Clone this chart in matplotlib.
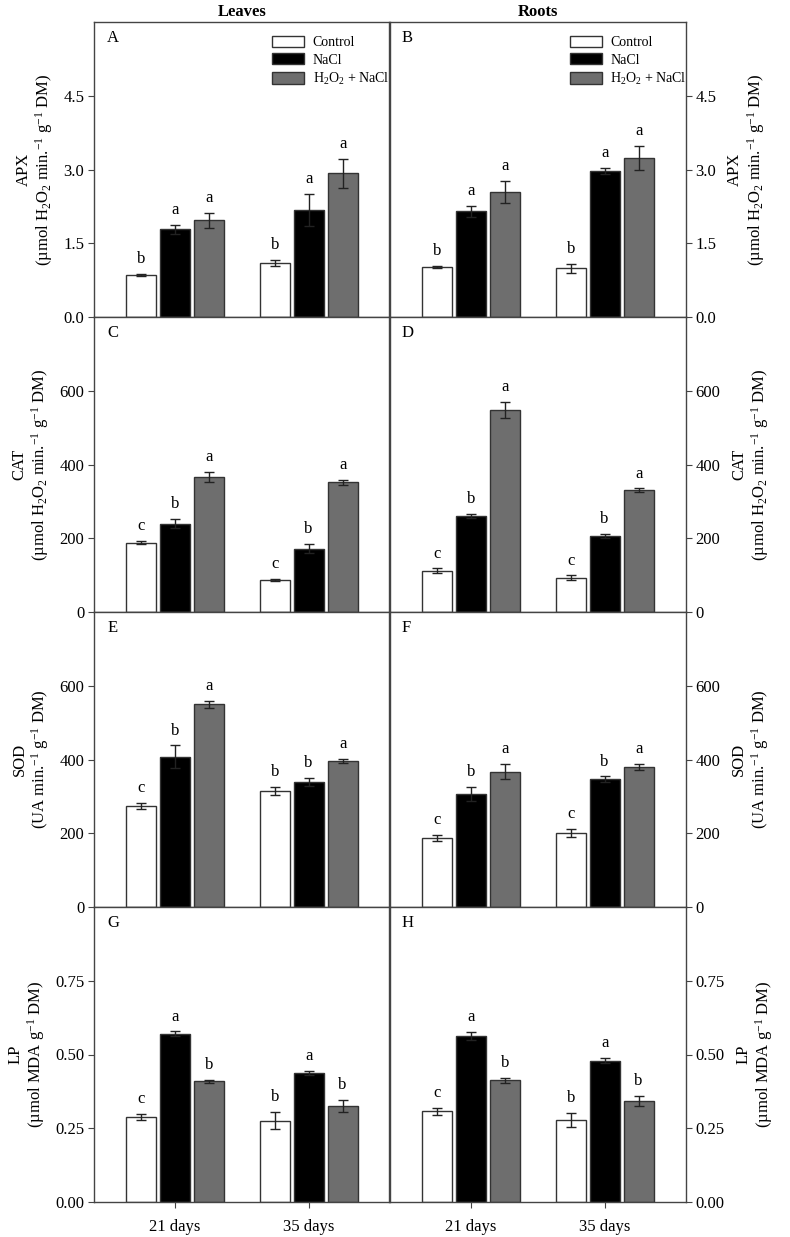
import matplotlib
matplotlib.use("Agg")
import matplotlib.pyplot as plt
import numpy as np

plt.rcParams['font.family'] = ['Liberation Serif', 'DejaVu Serif']
plt.rcParams['mathtext.fontset'] = 'custom'
plt.rcParams['mathtext.rm'] = 'Liberation Serif'
plt.rcParams['mathtext.it'] = 'Liberation Serif:italic'

# dados
days = ['21 days', '35 days']
treatments = ['Control', 'NaCl', 'H$_2$O$_2$ + NaCl']
colors = ['white', 'black', '#6e6e6e']

# [treatment][day]
apx_leaves = [[0.85, 1.10], [1.78, 2.18], [1.97, 2.92]]
apx_leaves_err = [[0.02, 0.06], [0.10, 0.32], [0.15, 0.29]]
apx_roots = [[1.02, 0.99], [2.15, 2.97], [2.54, 3.24]]
apx_roots_err = [[0.02, 0.09], [0.11, 0.06], [0.23, 0.24]]

cat_leaves = [[188, 86], [240, 172], [366, 352]]
cat_leaves_err = [[4, 3], [12, 13], [14, 7]]
cat_roots = [[112, 93], [260, 206], [548, 330]]
cat_roots_err = [[6, 6], [5, 6], [22, 5]]

sod_leaves = [[274, 315], [407, 339], [550, 396]]
sod_leaves_err = [[8, 11], [31, 12], [10, 6]]
sod_roots = [[187, 200], [307, 347], [367, 380]]
sod_roots_err = [[9, 11], [19, 7], [21, 9]]

lp_leaves = [[0.288, 0.276], [0.570, 0.437], [0.409, 0.326]]
lp_leaves_err = [[0.009, 0.030], [0.008, 0.008], [0.005, 0.020]]
lp_roots = [[0.307, 0.277], [0.563, 0.479], [0.412, 0.342]]
lp_roots_err = [[0.011, 0.024], [0.013, 0.008], [0.010, 0.018]]

letters_apx = [['b', 'b'], ['a', 'a'], ['a', 'a']]
letters_cat = [['c', 'c'], ['b', 'b'], ['a', 'a']]
letters_sod_leaves = [['c', 'b'], ['b', 'b'], ['a', 'a']]
letters_sod_roots = [['c', 'c'], ['b', 'b'], ['a', 'a']]
letters_lp = [['c', 'b'], ['a', 'a'], ['b', 'b']]

apx_label = 'APX\n(µmol H$_2$O$_2$ min.$^{-1}$ g$^{-1}$ DM)'
cat_label = 'CAT\n(µmol H$_2$O$_2$ min.$^{-1}$ g$^{-1}$ DM)'
sod_label = 'SOD\n(UA min.$^{-1}$ g$^{-1}$ DM)'
lp_label = 'LP\n(µmol MDA g$^{-1}$ DM)'

rows = [
    ('A', 'B', apx_leaves, apx_leaves_err, apx_roots, apx_roots_err, letters_apx, letters_apx,
     apx_label, 6.0, [0.0, 1.5, 3.0, 4.5], '%.1f'),
    ('C', 'D', cat_leaves, cat_leaves_err, cat_roots, cat_roots_err, letters_cat, letters_cat,
     cat_label, 800, [0, 200, 400, 600], '%d'),
    ('E', 'F', sod_leaves, sod_leaves_err, sod_roots, sod_roots_err, letters_sod_leaves, letters_sod_roots,
     sod_label, 800, [0, 200, 400, 600], '%d'),
    ('G', 'H', lp_leaves, lp_leaves_err, lp_roots, lp_roots_err, letters_lp, letters_lp,
     lp_label, 1.0, [0.0, 0.25, 0.50, 0.75], '%.2f'),
]

fig = plt.figure(figsize=(7.9, 12.37), dpi=100)

W, H = 790, 1237
left_x, right_x, col_w = 94, 390, 295.5
top_y, panel_h = 22, 295

x = np.array([1, 2])
width = 0.222
offset = 0.254
edge = '#333333'


def draw_panel(ax, vals, errs, letters, ymax, ticks, fmt, side, tag, bottom_row):
    for i in range(3):
        pos = x + (i - 1) * offset
        ax.bar(pos, vals[i], width, color=colors[i], edgecolor=edge, linewidth=1.0,
               label=treatments[i], zorder=2)
        ax.errorbar(pos, vals[i], yerr=errs[i], fmt='none', ecolor='#222222',
                    elinewidth=1.0, capsize=3.5, capthick=1.0, zorder=3)
        for j in range(2):
            ax.annotate(letters[i][j], (pos[j], vals[i][j] + errs[i][j]),
                        xytext=(0, 5), textcoords='offset points',
                        ha='center', va='bottom', fontsize=12)
    ax.set_xlim(0.396, 2.604)
    ax.set_ylim(0, ymax)
    ax.set_yticks(ticks)
    ax.set_yticklabels([fmt % t for t in ticks], fontsize=12)
    for s in ax.spines.values():
        s.set_color('#444444')
        s.set_linewidth(1.0)
    ax.tick_params(axis='y', direction='out', length=4, color='#444444', pad=3)
    if side == 'right':
        ax.yaxis.tick_right()
        ax.yaxis.set_label_position('right')
    ax.text(0.045 if side == 'left' else 0.04, 0.945, tag, transform=ax.transAxes,
            fontsize=12, ha='left', va='center')
    if bottom_row:
        ax.set_xticks(x)
        ax.set_xticklabels(days, fontsize=12)
        ax.tick_params(axis='x', direction='out', length=4, color='#444444', pad=8)
    else:
        ax.set_xticks([])


for r, (tl, tr, lv, le, rv, re_, lletters, rletters, ylab, ymax, ticks, fmt) in enumerate(rows):
    bottom = 1 - (top_y + (r + 1) * panel_h) / H
    axl = fig.add_axes([left_x / W, bottom, col_w / W, panel_h / H])
    axr = fig.add_axes([right_x / W, bottom, col_w / W, panel_h / H])
    last = (r == 3)
    draw_panel(axl, lv, le, lletters, ymax, ticks, fmt, 'left', tl, last)
    draw_panel(axr, rv, re_, rletters, ymax, ticks, fmt, 'right', tr, last)
    axl.set_ylabel(ylab, fontsize=12, linespacing=1.1, labelpad=6)
    axr.set_ylabel(ylab, fontsize=12, linespacing=1.1, labelpad=8)
    if r == 0:
        for ax, bx in ((axl, 0.585), (axr, 0.59)):
            ax.legend(loc='upper left', bbox_to_anchor=(bx, 0.972), frameon=False,
                      fontsize=10, handlelength=2.3, handleheight=0.85,
                      labelspacing=0.3, handletextpad=0.6, borderaxespad=0)
        axl.set_title('Leaves', fontsize=12, fontweight='bold', pad=4)
        axr.set_title('Roots', fontsize=12, fontweight='bold', pad=4)

fig.savefig('out.png', dpi=100)
plt.close(fig)
